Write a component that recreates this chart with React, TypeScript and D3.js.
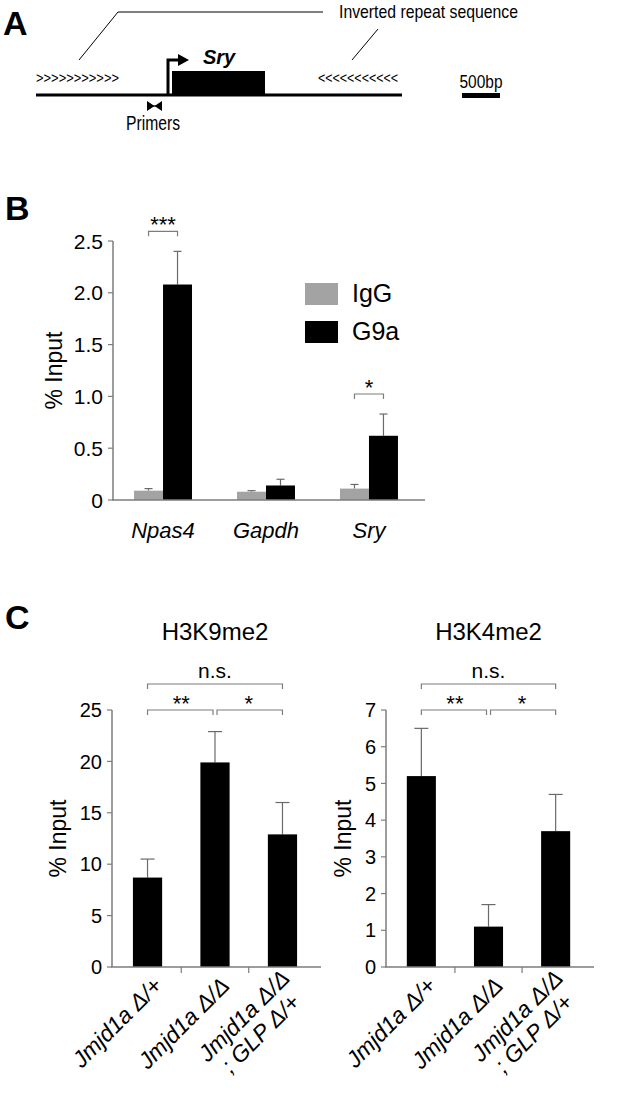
import React from "react";
import * as d3 from "d3";

const W = 625;
const H = 1098;
const FONT = "'Liberation Sans', Arial, Helvetica, sans-serif";
const AXIS = "#7d7d7d";
const GREY_BAR = "#a3a3a3";

// panel B: ChIP for G9a
const targets = ["Npas4", "Gapdh", "Sry"];
const antibodies = ["IgG", "G9a"];
const iggMean = [0.09, 0.08, 0.11];
const iggSem = [0.02, 0.01, 0.04];
const g9aMean = [2.08, 0.14, 0.62];
const g9aSem = [0.32, 0.06, 0.21];
const bTicks = [0, 0.5, 1, 1.5, 2, 2.5];
const bSig = [
  { target: "Npas4", label: "***" },
  { target: "Sry", label: "*" },
];

// panel C: histone marks at Sry
const genotypes = ["Jmjd1a Δ/+", "Jmjd1a Δ/Δ", "Jmjd1a Δ/Δ; GLP Δ/+"];
const h3k9Mean = [8.7, 19.9, 12.9];
const h3k9Sem = [1.8, 3.0, 3.1];
const h3k4Mean = [5.2, 1.1, 3.7];
const h3k4Sem = [1.3, 0.6, 1.0];
const h3k9Ticks = [0, 5, 10, 15, 20, 25];
const h3k4Ticks = [0, 1, 2, 3, 4, 5, 6, 7];
const cSig = [
  { from: 0, to: 2, label: "n.s.", level: 1 },
  { from: 0, to: 1, label: "**", level: 0 },
  { from: 1, to: 2, label: "*", level: 0 },
];

function PanelA() {
  return (
    <g>
      <text x={3} y={35} fontSize={34} fontWeight="bold">A</text>
      {/* inverted repeat callout */}
      <path d="M79,60 L118,12 L323,12" fill="none" stroke="#000" strokeWidth={1} />
      <path d="M352,60 L378,29" fill="none" stroke="#000" strokeWidth={1} />
      <text x={339} y={18} fontSize={19} textLength={179} lengthAdjust="spacingAndGlyphs">
        Inverted repeat sequence
      </text>
      <text x={36} y={83} fontSize={14} textLength={83} lengthAdjust="spacingAndGlyphs">
        {">>>>>>>>>>>"}
      </text>
      <text x={318} y={83} fontSize={14} textLength={80} lengthAdjust="spacingAndGlyphs">
        {"<<<<<<<<<<<"}
      </text>
      {/* locus */}
      <line x1={36} x2={402} y1={95} y2={95} stroke="#000" strokeWidth={3} />
      <rect x={172} y={71} width={93} height={24} fill="#000" />
      <path d="M168,95 L168,60 L180,60" fill="none" stroke="#000" strokeWidth={3} />
      <path d="M178,54 L189,60 L178,66 Z" fill="#000" />
      <text x={203} y={64} fontSize={20} fontWeight="bold" fontStyle="italic">Sry</text>
      {/* primers */}
      <line x1={147} x2={162} y1={106} y2={106} stroke="#000" strokeWidth={1.2} />
      <path d="M147,101 L154.5,106 L147,111 Z M162,101 L154.5,106 L162,111 Z" fill="#000" />
      <text x={153} y={130} fontSize={20} textAnchor="middle" textLength={54} lengthAdjust="spacingAndGlyphs">
        Primers
      </text>
      {/* scale bar */}
      <text x={481} y={88} fontSize={18} textAnchor="middle" textLength={43} lengthAdjust="spacingAndGlyphs">
        500bp
      </text>
      <rect x={462} y={93} width={38} height={5} fill="#000" />
    </g>
  );
}

function PanelB() {
  const y = d3.scaleLinear().domain([0, 2.5]).range([500, 241]);
  const x0 = d3
    .scaleBand()
    .domain(targets)
    .range([112, 420])
    .paddingInner(0.437)
    .paddingOuter(0.214);
  const x1 = d3.scaleBand().domain(antibodies).range([0, x0.bandwidth()]);
  const series = [
    { key: "IgG", mean: iggMean, sem: iggSem, fill: GREY_BAR },
    { key: "G9a", mean: g9aMean, sem: g9aSem, fill: "#000" },
  ];
  const fmt = (d) => (d === 0 ? "0" : d3.format(".1f")(d));
  const cx = (t, k) => x0(t) + x1(k) + x1.bandwidth() / 2;

  return (
    <g>
      <text x={5} y={220} fontSize={34} fontWeight="bold">B</text>
      {/* bars */}
      {series.map((s) =>
        targets.map((t, i) => (
          <g key={s.key + t}>
            <line
              x1={cx(t, s.key)}
              x2={cx(t, s.key)}
              y1={y(s.mean[i])}
              y2={y(s.mean[i] + s.sem[i])}
              stroke="#6a6a6a"
              strokeWidth={1.2}
            />
            <line
              x1={cx(t, s.key) - 4}
              x2={cx(t, s.key) + 4}
              y1={y(s.mean[i] + s.sem[i])}
              y2={y(s.mean[i] + s.sem[i])}
              stroke="#6a6a6a"
              strokeWidth={1.2}
            />
            <rect
              x={x0(t) + x1(s.key)}
              y={y(s.mean[i])}
              width={x1.bandwidth()}
              height={y(0) - y(s.mean[i])}
              fill={s.fill}
            />
          </g>
        ))
      )}
      {/* axes */}
      <line x1={113} x2={113} y1={y(2.5)} y2={y(0)} stroke={AXIS} strokeWidth={1.5} />
      <line x1={112} x2={425} y1={y(0)} y2={y(0)} stroke={AXIS} strokeWidth={1.5} />
      {bTicks.map((t) => (
        <g key={t}>
          <line x1={108} x2={113} y1={y(t)} y2={y(t)} stroke={AXIS} strokeWidth={1.2} />
          <text x={103} y={y(t)} dy="0.36em" fontSize={21} textAnchor="end">
            {fmt(t)}
          </text>
        </g>
      ))}
      <text
        transform={`translate(62,${(y(0) + y(2.5)) / 2}) rotate(-90)`}
        fontSize={23}
        textAnchor="middle"
      >
        % Input
      </text>
      {targets.map((t) => (
        <text key={t} x={x0(t) + x0.bandwidth() / 2} y={538} fontSize={22} fontStyle="italic" textAnchor="middle">
          {t}
        </text>
      ))}
      {/* significance */}
      {bSig.map((s) => {
        const i = targets.indexOf(s.target);
        const top = y(g9aMean[i] + g9aSem[i]) - 20;
        const a = cx(s.target, "IgG");
        const b = cx(s.target, "G9a");
        return (
          <g key={s.target}>
            <path d={`M${a},${top + 5}V${top}H${b}V${top + 5}`} fill="none" stroke={AXIS} strokeWidth={1.2} />
            <text x={(a + b) / 2} y={top + 1} fontSize={22} textAnchor="middle">
              {s.label}
            </text>
          </g>
        );
      })}
      {/* legend */}
      {series.map((s, i) => (
        <g key={s.key}>
          <rect x={305} y={283 + i * 38} width={33} height={22} fill={s.fill} />
          <text x={352} y={302 + i * 38} fontSize={25}>
            {s.key}
          </text>
        </g>
      ))}
    </g>
  );
}

function PanelC({ title, mean, sem, ticks, left, right, titleX }) {
  const y = d3.scaleLinear().domain([0, ticks[ticks.length - 1]]).range([967, 710]);
  const x = d3
    .scaleBand()
    .domain(genotypes)
    .range([left, right])
    .paddingInner(0.567)
    .paddingOuter(0.31);
  const bw = x.bandwidth();
  const cx = (i) => x(genotypes[i]) + bw / 2;
  const step = x.step();
  return (
    <g>
      <text x={cx(1)} y={640} fontSize={24} textAnchor="middle">
        {title}
      </text>
      {genotypes.map((g, i) => (
        <g key={g}>
          <line x1={cx(i)} x2={cx(i)} y1={y(mean[i])} y2={y(mean[i] + sem[i])} stroke="#6a6a6a" strokeWidth={1.2} />
          <line
            x1={cx(i) - 7}
            x2={cx(i) + 7}
            y1={y(mean[i] + sem[i])}
            y2={y(mean[i] + sem[i])}
            stroke="#6a6a6a"
            strokeWidth={1.2}
          />
          <rect x={x(g)} y={y(mean[i])} width={bw} height={y(0) - y(mean[i])} fill="#000" />
        </g>
      ))}
      <line x1={left} x2={left} y1={y.range()[1]} y2={y(0)} stroke={AXIS} strokeWidth={1.5} />
      <line x1={left - 1} x2={right + 3} y1={y(0)} y2={y(0)} stroke={AXIS} strokeWidth={1.5} />
      {[0, 1].map((i) => (
        <line key={i} x1={cx(i) + step / 2} x2={cx(i) + step / 2} y1={y(0)} y2={y(0) + 6} stroke={AXIS} strokeWidth={1.2} />
      ))}
      {ticks.map((t) => (
        <g key={t}>
          <line x1={left - 5} x2={left} y1={y(t)} y2={y(t)} stroke={AXIS} strokeWidth={1.2} />
          <text x={left - 10} y={y(t)} dy="0.36em" fontSize={20} textAnchor="end">
            {t}
          </text>
        </g>
      ))}
      <text transform={`translate(${titleX},${(y(0) + y.range()[1]) / 2}) rotate(-90)`} fontSize={23} textAnchor="middle">
        % Input
      </text>
      {genotypes.map((g, i) => {
        const lines = g.split(/(?=; )/);
        return (
          <text
            key={g}
            transform={`translate(${cx(i) + 16},${y(0) + 20}) rotate(-45)`}
            fontSize={23}
            fontStyle="italic"
            textAnchor="end"
          >
            {lines.map((l, j) => (
              <tspan key={j} x={j === 0 ? 0 : -10} dy={lines.length > 1 ? (j === 0 ? "-0.45em" : "1.05em") : 0}>
                {l}
              </tspan>
            ))}
          </text>
        );
      })}
      {cSig.map((s) => {
        const by = s.level === 1 ? 684 : 710;
        const a = cx(s.from) + (s.level === 0 && s.from === 1 ? 2 : 0);
        const b = cx(s.to) - (s.level === 0 && s.to === 1 ? 2 : 0);
        return (
          <g key={s.label}>
            <path d={`M${a},${by + 5}V${by}H${b}V${by + 5}`} fill="none" stroke={AXIS} strokeWidth={1.2} />
            <text
              x={(cx(s.from) + cx(s.to)) / 2}
              y={s.level === 1 ? 678 : 711}
              fontSize={s.level === 1 ? 21 : 22}
              textAnchor="middle"
            >
              {s.label}
            </text>
          </g>
        );
      })}
    </g>
  );
}

export default function App() {
  return (
    <svg
      width={W}
      height={H}
      viewBox={`0 0 ${W} ${H}`}
      style={{ position: "absolute", left: 0, top: 0, background: "#fff" }}
      fontFamily={FONT}
    >
      <rect width={W} height={H} fill="#fff" />
      <PanelA />
      <PanelB />
      <text x={5} y={629} fontSize={34} fontWeight="bold">C</text>
      <PanelC title="H3K9me2" mean={h3k9Mean} sem={h3k9Sem} ticks={h3k9Ticks} left={112} right={318} titleX={66} />
      <PanelC title="H3K4me2" mean={h3k4Mean} sem={h3k4Sem} ticks={h3k4Ticks} left={386} right={591} titleX={351} />
    </svg>
  );
}
